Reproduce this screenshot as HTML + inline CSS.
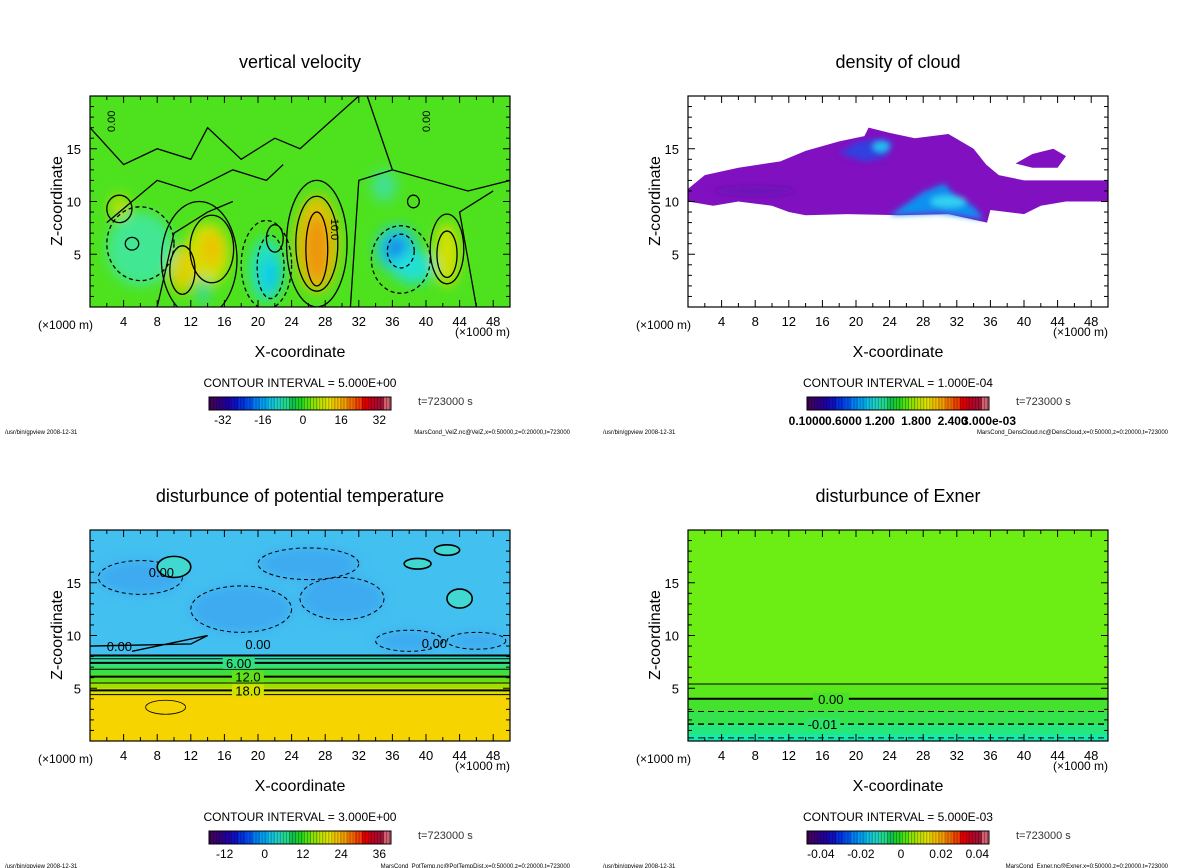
<!DOCTYPE html>
<html><head><meta charset="utf-8">
<style>
html,body{margin:0;padding:0;background:#fff;}
svg{display:block;font-family:"Liberation Sans",sans-serif;}
</style></head>
<body>
<svg id="fig" width="1200" height="868" viewBox="0 0 1200 868" xmlns="http://www.w3.org/2000/svg">
<defs>
<filter id="blur6" x="-50%" y="-50%" width="200%" height="200%"><feGaussianBlur stdDeviation="6"/></filter>
<filter id="blur3" x="-50%" y="-50%" width="200%" height="200%"><feGaussianBlur stdDeviation="3"/></filter>
<clipPath id="clipP"><rect x="0" y="0" width="420" height="211"/></clipPath>
</defs>
</svg>
<script>
const xTickLabels = [4,8,12,16,20,24,28,32,36,40,44,48];
const zTickLabels = [5,10,15];
const xDomain = [0,50];
const zDomain = [0,20];
const panelTitles = ["vertical velocity","density of cloud","disturbunce of potential temperature","disturbunce of Exner"];
const contourIntervals = ["5.000E+00","1.000E-04","3.000E+00","5.000E-03"];
const colorbarLabels = [["-32","-16","0","16","32"],["0.1000","0.6000","1.200","1.800","2.400","3.000e-03"],["-12","0","12","24","36"],["-0.04","-0.02","0","0.02","0.04"]];
const colorbarLabelPos = [[0.12,0.34,0.56,0.77,0.98],[0,0.2,0.4,0.6,0.8,1.0],[0.13,0.35,0.56,0.77,0.98],[0.12,0.34,0.56,0.78,0.98]];
const fileNames = ["MarsCond_VelZ.nc@VelZ,x=0:50000,z=0:20000,t=723000","MarsCond_DensCloud.nc@DensCloud,x=0:50000,z=0:20000,t=723000","MarsCond_PotTemp.nc@PotTempDist,x=0:50000,z=0:20000,t=723000","MarsCond_Exner.nc@Exner,x=0:50000,z=0:20000,t=723000"];
const velBlobs = [[27,6,2.6,4.6,"#f0c000"],[27,5.5,1.4,3.2,"#f09010"],[14,5,2.6,3,"#e0e000"],[11,3.5,1.6,2.2,"#e8d000"],[14.5,5.5,1.2,1.6,"#f0c000"],
 [21,3.5,2,3,"#20e0d0"],[21.5,3,1,1.6,"#10c8f0"],[36.5,5.5,2.5,2.2,"#20c8f0"],[36.5,5.5,1.1,1,"#1070f0"],[38.5,3.8,2.5,1.6,"#20e0e0"],
 [6,5.5,4,3.5,"#40e8a0"],[42.5,5,1.5,3,"#e0e000"],[3.5,9.5,1.2,1.2,"#c0e000"],[35,11.5,1.5,1.5,"#40e0a0"],[13.5,1.5,0.7,1.4,"#30d8b0"]];
const velContours = [[27,6,3.6,6,0],[27,6,2.5,4.5,0],[27,5.5,1.3,3.5,0],[14.5,5.5,2.6,3.2,0],[11,3.5,1.5,2.3,0],[13,4.5,4.5,5.5,0],
 [21.5,3.8,1.6,3,1],[21,4,3,4.2,1],[37,5.3,1.6,1.6,1],[37,4.5,3.5,3.2,1],[6,6,4,3.5,1],[42.5,5,1.2,2.2,0],[42.5,5.5,2,3.3,0],[3.5,9.3,1.5,1.3,0],[22,6.5,1,1.3,0],[5,6,0.8,0.6,0],[38.5,10,0.7,0.6,0]];
const cloudMain = [[0,11.2],[2,12.5],[6,13.2],[11,13.8],[14,14.8],[18,15.7],[21,16.2],[21.5,17],[24,16.5],[27,16],[31,16.4],[34,15],[35.5,13.5],[37,12.5],[40,12],[45,12],[50,12],[50,10],[45,10],[42,9.6],[40,8.8],[36,9.2],[35.6,8],[31,8.8],[25,8.7],[19,8.8],[14,8.7],[12,9],[10,9.6],[6,10],[3,9.6],[0,10]];
const cloudPatch = [[39,13.6],[41,14.5],[43.5,15],[45,14.3],[44,13.2],[41,13.2]];
const cloudBlue = [[18,14.6],[20,15.6],[23,16],[24.5,15.6],[23.5,14.2],[21,13.8]];
const cloudWedge = [[24,8.7],[28,10.9],[30.5,11.7],[31.5,10.8],[34,9.5],[35.3,8.3],[30,8.9]];
const ptLayers = [[20,"#42c0f0"],[8.2,"#30dcb8"],[7.6,"#30e080"],[7.0,"#38e048"],[6.3,"#60e018"],[5.6,"#a0e000"],[5.0,"#d8e000"],[4.4,"#f5d400"]];
const ptLines = [[8.1,2],[7.8,1],[7.4,2],[6.8,1],[6.1,2],[5.5,1],[4.8,2],[4.4,1]];
const ptLineLabels = [["0.00",3.5,9.0],["0.00",41,9.3],["0.00",8.5,16],["0.00",20,9.2],["6.00",17.7,7.4],["12.0",18.8,6.1],["18.0",18.8,4.8]];
const ptDashed = [[6,15.5,5,1.6],[18,12.5,6,2.2],[30,13.5,5,2],[38,9.5,4,1],[46,9.5,3.5,0.8],[26,16.8,6,1.5]];
const ptPatches = [[10,16.5,2,1,0],[44,13.5,1.5,0.9,0],[39,16.8,1.6,0.5,0],[42.5,18.1,1.5,0.5,0]];
const exLayers = [[20,"#6cee14"],[5.4,"#5ae81c"],[4.0,"#44e22c"],[2.8,"#34e24c"],[1.6,"#24e87c"],[0.6,"#12eab0"]];
const exLines = [[5.4,1,0],[4.0,2,0],[2.8,1,1],[1.6,1.5,1],[0.3,1,1]];
const exLabels = [["0.00",17,4.0],["-0.01",16,1.6]];
const cbPalette = ["#400060","#300080","#2000a0","#1010c0","#0030e0","#0050f0","#0080f0","#00a0f0","#10c0e0","#20d0c0","#20d890","#10c050","#20d020","#50e010","#90e000","#c0e000","#e0e000","#f0c000","#f0a000","#f07000","#f04000","#e00000","#c00020","#a01030","#d06070"];

const svg = document.getElementById('fig');
const NS = "http://www.w3.org/2000/svg";
function mk(tag, attrs, parent){const e=document.createElementNS(NS,tag);for(const k in attrs)e.setAttribute(k,attrs[k]);(parent||svg).appendChild(e);return e;}
const PW=420, PH=211;
function sx(x){return (x-xDomain[0])/(xDomain[1]-xDomain[0])*PW;}
function sz(z){return PH-(z-zDomain[0])/(zDomain[1]-zDomain[0])*PH;}
function txt(parent,x,y,s,size,anchor,extra){const t=mk('text',Object.assign({x:x,y:y,'font-size':size,'text-anchor':anchor||'start',fill:'#000'},extra||{}),parent);t.textContent=s;return t;}
function poly(g,pts,fill,extra){return mk('polygon',Object.assign({points:pts.map(p=>sx(p[0])+','+sz(p[1])).join(' '),fill:fill},extra||{}),g);}

const offsets=[[0,0],[598,0],[0,434],[598,434]];
for(let p=0;p<4;p++){
  const [ox,oy]=offsets[p];
  const pg=mk('g',{transform:`translate(${ox},${oy})`});
  
  
  const t=txt(pg,300,68,panelTitles[p],18,'middle');
  
  
  const plot=mk('g',{transform:'translate(90,96)'},pg);
  
  
  const inner=mk('g',{'clip-path':'url(#clipP)'},plot);
  if(p===0){
    mk('rect',{x:0,y:0,width:PW,height:PH,fill:'#4ee21e'},inner);
    const bg=mk('g',{filter:'url(#blur6)'},inner);
    velBlobs.forEach(b=>{const e=mk('ellipse',{cx:sx(b[0]),cy:sz(b[1]),rx:sx(b[2]),ry:PH-sz(b[3]),fill:b[4],opacity:0.9},bg);
      });
    velContours.forEach(c=>{const e=mk('ellipse',{cx:sx(c[0]),cy:sz(c[1]),rx:sx(c[2]),ry:PH-sz(c[3]),fill:'none',stroke:'#000','stroke-width':1.3,'stroke-dasharray':c[4]?'4,3':'none'},inner);
      });
    mk('path',{d:`M0,${sz(17)} L${sx(4)},${sz(13.5)} L${sx(8)},${sz(15)} L${sx(12)},${sz(14)} L${sx(14)},${sz(17)} L${sx(18)},${sz(14)} L${sx(22)},${sz(16)} L${sx(25)},${sz(15)} L${sx(32)},${sz(20)} M${sx(2)},${sz(8)} L${sx(8)},${sz(12)} L${sx(12)},${sz(11)} L${sx(17)},${sz(13)} L${sx(21)},${sz(12)} L${sx(23)},${sz(13.5)} M${sx(33)},${sz(20)} L${sx(36)},${sz(13)} L${sx(45)},${sz(11)} L${sx(50)},${sz(12)} M${sx(31)},${sz(0)} L${sx(32)},${sz(12)} L${sx(36)},${sz(13)} M${sx(8)},${sz(0)} L${sx(10)},${sz(7)} L${sx(14)},${sz(9)} L${sx(17)},${sz(10)} M${sx(46)},${sz(0)} L${sx(44)},${sz(9)} L${sx(48)},${sz(11)}`,fill:'none',stroke:'#000','stroke-width':1.3},inner);
    txt(inner,sx(27),sz(6),'10.0',11,'middle',{transform:`rotate(90 ${sx(28.7)} ${sz(6)})`});
    txt(inner,sx(2.5),sz(18),'0.00',11,'middle',{transform:`rotate(-90 ${sx(3)} ${sz(18)})`});
    txt(inner,sx(40),sz(18),'0.00',11,'middle',{transform:`rotate(-90 ${sx(40.5)} ${sz(18)})`});
  } else if(p===1){
    mk('rect',{x:0,y:0,width:PW,height:PH,fill:'#fff'},inner);
    poly(inner,cloudMain,'#8010c0');
    poly(inner,cloudPatch,'#8010c0');
    const bl=mk('g',{filter:'url(#blur3)'},inner);
    poly(bl,cloudBlue,'#3040e0');
    mk('ellipse',{cx:sx(23),cy:sz(15.2),rx:8,ry:5,fill:'#20c0f0'},bl);
    poly(bl,cloudWedge,'#1090f0');
    mk('ellipse',{cx:sx(31),cy:sz(10),rx:18,ry:6,fill:'#30d0f0'},bl);
    mk('ellipse',{cx:sx(8),cy:sz(11),rx:40,ry:5,fill:'#6010b0',opacity:0.6},bl);
  } else if(p===2){
    ptLayers.forEach(l=>mk('rect',{x:0,y:sz(l[0]),width:PW,height:PH-sz(l[0]),fill:l[1]},inner));
    const bg=mk('g',{filter:'url(#blur6)'},inner);
    ptDashed.forEach(d=>mk('ellipse',{cx:sx(d[0]),cy:sz(d[1]),rx:sx(d[2]),ry:PH-sz(d[3]),fill:'#3a9ff0',opacity:0.7},bg));
    ptDashed.forEach(d=>mk('ellipse',{cx:sx(d[0]),cy:sz(d[1]),rx:sx(d[2]),ry:PH-sz(d[3]),fill:'none',stroke:'#000','stroke-width':1,'stroke-dasharray':'4,3'},inner));
    ptPatches.forEach(d=>mk('ellipse',{cx:sx(d[0]),cy:sz(d[1]),rx:sx(d[2]),ry:PH-sz(d[3]),fill:'#40d8d0',stroke:'#000','stroke-width':1.6},inner));
    ptLines.forEach(l=>{const e=mk('line',{x1:0,x2:PW,y1:sz(l[0]),y2:sz(l[0]),stroke:'#000','stroke-width':l[1]},inner);
      });
    mk('path',{d:`M0,${sz(9)} L${sx(12)},${sz(9.2)} L${sx(14)},${sz(10)} L${sx(5)},${sz(8.5)}`,fill:'none',stroke:'#000','stroke-width':1.4},inner);
    mk('ellipse',{cx:sx(9),cy:sz(3.2),rx:20,ry:7,fill:'none',stroke:'#000','stroke-width':0.8},inner);
    ptLineLabels.forEach(l=>{const w=l[0].length*7;
      if(l[2]<8) mk('rect',{x:sx(l[1])-w/2-2,y:sz(l[2])-6,width:w+4,height:12,fill:l[2]>7?'#30e080':(l[2]>5.5?'#60e018':'#d0e000')},inner);
      txt(inner,sx(l[1]),sz(l[2])+5,l[0],13,'middle');});
  } else {
    exLayers.forEach(l=>mk('rect',{x:0,y:sz(l[0]),width:PW,height:PH-sz(l[0]),fill:l[1]},inner));
    exLines.forEach(l=>{const e=mk('line',{x1:0,x2:PW,y1:sz(l[0]),y2:sz(l[0]),stroke:'#000','stroke-width':l[1],'stroke-dasharray':l[2]?'6,4':'none'},inner);
      });
    exLabels.forEach(l=>{mk('rect',{x:sx(l[1])-18,y:sz(l[2])-6,width:36,height:12,fill:l[2]>3?'#48e228':'#2ce468'},inner);
      txt(inner,sx(l[1]),sz(l[2])+5,l[0],13,'middle');});
  }
  mk('rect',{x:0,y:0,width:PW,height:PH,fill:'none',stroke:'#000','stroke-width':1.2},plot);
  for(let x=2;x<50;x+=2){const L=x%4===0?7:4;
    mk('line',{x1:sx(x),x2:sx(x),y1:PH,y2:PH-L,stroke:'#000'},plot);
    mk('line',{x1:sx(x),x2:sx(x),y1:0,y2:L,stroke:'#000'},plot);}
  for(let z=1;z<20;z++){const L=z%5===0?7:4;
    mk('line',{x1:0,x2:L,y1:sz(z),y2:sz(z),stroke:'#000'},plot);
    mk('line',{x1:PW,x2:PW-L,y1:sz(z),y2:sz(z),stroke:'#000'},plot);}
  xTickLabels.forEach(v=>{const t=txt(plot,sx(v),PH+19,String(v),13,'middle');});
  zTickLabels.forEach(v=>{const t=txt(plot,-9,sz(v)+5,String(v),13,'end');});
  txt(pg,38,329,'(×1000 m)',12,'start');
  txt(pg,455,336,'(×1000 m)',12,'start');
  const xl=txt(pg,300,357,'X-coordinate',16,'middle');
  
  const yl=txt(pg,62,201,'Z-coordinate',16,'middle',{transform:'rotate(-90 62 201)'});
  
  const ci=txt(pg,300,387,'CONTOUR INTERVAL = '+contourIntervals[p],12,'middle');
  
  const cb=mk('g',{transform:'translate(209,397)'},pg);
  
  const n=cbPalette.length, W=182;
  cbPalette.forEach((c,i)=>mk('rect',{x:i*W/n,y:0,width:W/n+0.5,height:13,fill:c},cb));
  for(let i=0;i<60;i++) mk('line',{x1:i*W/60+1.5,x2:i*W/60+1.5,y1:0,y2:13,stroke:'#000','stroke-opacity':0.35,'stroke-width':0.8},cb);
  mk('rect',{x:0,y:0,width:W,height:13,fill:'none',stroke:'#000'},cb);
  colorbarLabels[p].forEach((s,i)=>txt(cb,colorbarLabelPos[p][i]*W-(p===1?0:8),p===1?28:27,s,12,'middle',p===1?{'font-weight':'bold'}:{}));
  txt(pg,418,405,'t=723000 s',11,'start',{fill:'#333'});
  txt(pg,5,434,'/usr/bin/gpview  2008-12-31',6,'start');
  txt(pg,570,434,fileNames[p],6,'end');
}
</script>
</body></html>
